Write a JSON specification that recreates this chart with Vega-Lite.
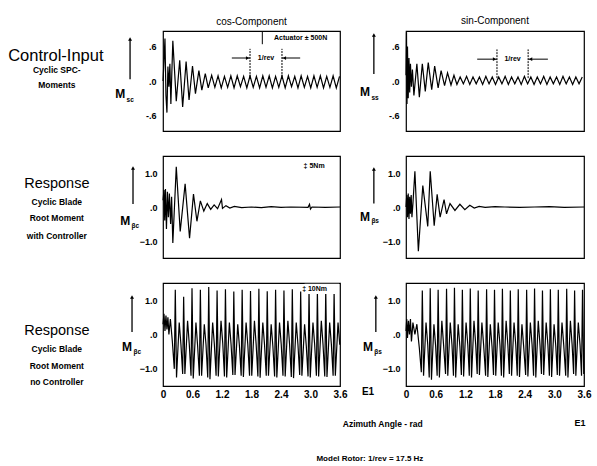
{
"$schema": "https://vega.github.io/schema/vega-lite/v6.json",
"padding": {"left": 7, "top": 15, "right": 5, "bottom": 5},
"background": "white",
"config": {"font": "Liberation Sans", "view": {"stroke": "black", "strokeWidth": 1.2}, "title": {"fontSize": 10, "fontWeight": "normal", "offset": 4, "anchor": "middle", "color": "black"}},
"datasets": {
"tl": [{"x":0.00,"y":0.0},{"x":0.02,"y":0.35},{"x":0.04,"y":0.74},{"x":0.06,"y":-0.25},{"x":0.08,"y":-0.55},{"x":0.10,"y":0.25},{"x":0.12,"y":-0.1},{"x":0.14,"y":0.3},{"x":0.16,"y":-0.4},{"x":0.20,"y":0.70},{"x":0.27,"y":-0.35},{"x":0.34,"y":0.36},{"x":0.40,"y":-0.45},{"x":0.47,"y":0.34},{"x":0.53,"y":-0.33},{"x":0.60,"y":0.26},{"x":0.66,"y":-0.22},{"x":0.73,"y":0.18},{"x":0.79,"y":-0.16},{"x":0.86,"y":0.13},{"x":0.92,"y":-0.12},{"x":0.99,"y":0.10},{"x":1.055,"y":-0.11},{"x":1.12,"y":0.09},{"x":1.185,"y":-0.12},{"x":1.25,"y":0.08},{"x":1.315,"y":-0.11},{"x":1.38,"y":0.09},{"x":1.445,"y":-0.12},{"x":1.51,"y":0.09},{"x":1.575,"y":-0.1},{"x":1.64,"y":0.08},{"x":1.705,"y":-0.12},{"x":1.77,"y":0.09},{"x":1.835,"y":-0.11},{"x":1.90,"y":0.08},{"x":1.965,"y":-0.12},{"x":2.03,"y":0.09},{"x":2.095,"y":-0.11},{"x":2.16,"y":0.09},{"x":2.225,"y":-0.12},{"x":2.29,"y":0.08},{"x":2.355,"y":-0.11},{"x":2.42,"y":0.09},{"x":2.485,"y":-0.12},{"x":2.55,"y":0.09},{"x":2.615,"y":-0.1},{"x":2.68,"y":0.08},{"x":2.745,"y":-0.12},{"x":2.81,"y":0.09},{"x":2.875,"y":-0.11},{"x":2.94,"y":0.08},{"x":3.005,"y":-0.12},{"x":3.07,"y":0.09},{"x":3.135,"y":-0.11},{"x":3.20,"y":0.09},{"x":3.265,"y":-0.12},{"x":3.33,"y":0.08},{"x":3.395,"y":-0.11},{"x":3.46,"y":0.09},{"x":3.525,"y":-0.12},{"x":3.59,"y":0.08}],
"tr": [{"x":0.00,"y":0.1},{"x":0.01,"y":0.85},{"x":0.02,"y":-0.4},{"x":0.03,"y":0.6},{"x":0.045,"y":-0.3},{"x":0.06,"y":0.4},{"x":0.075,"y":-0.2},{"x":0.09,"y":0.3},{"x":0.11,"y":-0.1},{"x":0.13,"y":0.2},{"x":0.16,"y":-0.25},{"x":0.22,"y":0.30},{"x":0.27,"y":-0.28},{"x":0.33,"y":0.30},{"x":0.39,"y":-0.18},{"x":0.45,"y":0.32},{"x":0.52,"y":-0.15},{"x":0.58,"y":0.26},{"x":0.65,"y":-0.12},{"x":0.71,"y":0.18},{"x":0.78,"y":-0.08},{"x":0.84,"y":0.14},{"x":0.91,"y":-0.07},{"x":0.97,"y":0.10},{"x":1.03,"y":-0.06},{"x":1.095,"y":0.07},{"x":1.16,"y":-0.05},{"x":1.225,"y":0.08},{"x":1.29,"y":-0.06},{"x":1.355,"y":0.07},{"x":1.42,"y":-0.05},{"x":1.485,"y":0.07},{"x":1.55,"y":-0.06},{"x":1.615,"y":0.08},{"x":1.68,"y":-0.05},{"x":1.745,"y":0.07},{"x":1.81,"y":-0.06},{"x":1.875,"y":0.07},{"x":1.94,"y":-0.05},{"x":2.005,"y":0.08},{"x":2.07,"y":-0.06},{"x":2.135,"y":0.07},{"x":2.20,"y":-0.05},{"x":2.265,"y":0.07},{"x":2.33,"y":-0.06},{"x":2.395,"y":0.08},{"x":2.46,"y":-0.05},{"x":2.525,"y":0.07},{"x":2.59,"y":-0.06},{"x":2.655,"y":0.07},{"x":2.72,"y":-0.05},{"x":2.785,"y":0.08},{"x":2.85,"y":-0.06},{"x":2.915,"y":0.07},{"x":2.98,"y":-0.05},{"x":3.045,"y":0.07},{"x":3.11,"y":-0.06},{"x":3.175,"y":0.08},{"x":3.24,"y":-0.05},{"x":3.305,"y":0.07},{"x":3.37,"y":-0.06},{"x":3.435,"y":0.07},{"x":3.50,"y":-0.05},{"x":3.565,"y":0.07}],
"ml": [{"x":0.00,"y":0.2},{"x":0.02,"y":0.5},{"x":0.035,"y":-0.4},{"x":0.05,"y":0.53},{"x":0.07,"y":-0.65},{"x":0.09,"y":0.45},{"x":0.11,"y":-0.3},{"x":0.13,"y":0.4},{"x":0.155,"y":-0.5},{"x":0.175,"y":0.3},{"x":0.20,"y":-1.06},{"x":0.27,"y":1.18},{"x":0.35,"y":-0.72},{"x":0.45,"y":0.68},{"x":0.54,"y":-0.92},{"x":0.62,"y":0.38},{"x":0.69,"y":-0.42},{"x":0.76,"y":0.18},{"x":0.83,"y":-0.12},{"x":0.90,"y":0.10},{"x":0.97,"y":-0.07},{"x":1.04,"y":0.06},{"x":1.11,"y":-0.05},{"x":1.19,"y":0.22},{"x":1.21,"y":-0.04},{"x":1.28,"y":0.04},{"x":1.36,"y":-0.03},{"x":1.45,"y":0.02},{"x":1.6,"y":-0.02},{"x":1.8,"y":0.0},{"x":2.0,"y":-0.02},{"x":2.2,"y":0.01},{"x":2.4,"y":-0.01},{"x":2.6,"y":0.0},{"x":2.95,"y":-0.01},{"x":2.98,"y":0.08},{"x":3.0,"y":-0.06},{"x":3.03,"y":0.0},{"x":3.3,"y":-0.01},{"x":3.6,"y":0.0}],
"mr": [{"x":0.00,"y":0.0},{"x":0.015,"y":0.35},{"x":0.03,"y":-0.3},{"x":0.045,"y":0.4},{"x":0.06,"y":-0.35},{"x":0.075,"y":0.3},{"x":0.09,"y":-0.2},{"x":0.105,"y":0.35},{"x":0.12,"y":-0.3},{"x":0.14,"y":0.1},{"x":0.18,"y":1.05},{"x":0.25,"y":-1.3},{"x":0.34,"y":0.63},{"x":0.44,"y":-0.57},{"x":0.49,"y":1.05},{"x":0.57,"y":-0.55},{"x":0.63,"y":0.37},{"x":0.69,"y":-0.3},{"x":0.77,"y":0.22},{"x":0.82,"y":-0.2},{"x":0.89,"y":0.1},{"x":0.99,"y":-0.1},{"x":1.09,"y":0.08},{"x":1.19,"y":-0.08},{"x":1.29,"y":0.05},{"x":1.38,"y":-0.03},{"x":1.48,"y":0.02},{"x":1.6,"y":-0.01},{"x":1.8,"y":0.01},{"x":2.0,"y":0.0},{"x":2.3,"y":-0.01},{"x":2.6,"y":0.0},{"x":2.9,"y":0.01},{"x":3.2,"y":-0.01},{"x":3.6,"y":0.0}],
"bl": [{"x":0,"y":0.3},{"x":0.02,"y":0.6},{"x":0.04,"y":0.1},{"x":0.06,"y":0.55},{"x":0.08,"y":0.15},{"x":0.10,"y":0.5},{"x":0.12,"y":0.0},{"x":0.15,"y":0.45},{"x":0.19,"y":-0.2},
{"x":0.23,"y":-1.0},{"x":0.25,"y":1.30},{"x":0.275,"y":-1.25},{"x":0.33,"y":0.35},{"x":0.365,"y":-0.3},
{"x":0.40,"y":-1.15},{"x":0.42,"y":1.10},{"x":0.445,"y":-1.15},{"x":0.50,"y":0.4},{"x":0.535,"y":-0.3},
{"x":0.57,"y":-1.2},{"x":0.59,"y":1.35},{"x":0.615,"y":-1.28},{"x":0.67,"y":0.35},{"x":0.705,"y":-0.35},
{"x":0.74,"y":-1.2},{"x":0.76,"y":1.30},{"x":0.785,"y":-1.2},{"x":0.84,"y":0.3},{"x":0.875,"y":-0.3},
{"x":0.91,"y":-1.25},{"x":0.93,"y":1.38},{"x":0.955,"y":-1.3},{"x":1.01,"y":0.35},{"x":1.045,"y":-0.3},
{"x":1.08,"y":-1.2},{"x":1.10,"y":1.28},{"x":1.125,"y":-1.22},{"x":1.18,"y":0.4},{"x":1.215,"y":-0.25},
{"x":1.25,"y":-1.22},{"x":1.27,"y":1.32},{"x":1.295,"y":-1.25},{"x":1.35,"y":0.35},{"x":1.385,"y":-0.3},
{"x":1.42,"y":-1.18},{"x":1.44,"y":1.25},{"x":1.465,"y":-1.18},{"x":1.52,"y":0.3},{"x":1.555,"y":-0.35},
{"x":1.59,"y":-1.2},{"x":1.61,"y":1.30},{"x":1.635,"y":-1.24},{"x":1.69,"y":0.35},{"x":1.725,"y":-0.3},
{"x":1.76,"y":-1.2},{"x":1.78,"y":1.27},{"x":1.805,"y":-1.2},{"x":1.86,"y":0.4},{"x":1.895,"y":-0.3},
{"x":1.93,"y":-1.22},{"x":1.95,"y":1.33},{"x":1.975,"y":-1.26},{"x":2.03,"y":0.35},{"x":2.065,"y":-0.3},
{"x":2.10,"y":-1.2},{"x":2.12,"y":1.26},{"x":2.145,"y":-1.2},{"x":2.20,"y":0.3},{"x":2.235,"y":-0.35},
{"x":2.27,"y":-1.22},{"x":2.29,"y":1.30},{"x":2.315,"y":-1.25},{"x":2.37,"y":0.35},{"x":2.405,"y":-0.3},
{"x":2.44,"y":-1.2},{"x":2.46,"y":1.28},{"x":2.485,"y":-1.22},{"x":2.54,"y":0.4},{"x":2.575,"y":-0.3},
{"x":2.61,"y":-1.24},{"x":2.63,"y":1.32},{"x":2.655,"y":-1.27},{"x":2.71,"y":0.35},{"x":2.745,"y":-0.3},
{"x":2.78,"y":-1.18},{"x":2.80,"y":1.25},{"x":2.825,"y":-1.2},{"x":2.88,"y":0.3},{"x":2.915,"y":-0.35},
{"x":2.95,"y":-1.22},{"x":2.97,"y":1.30},{"x":2.995,"y":-1.25},{"x":3.05,"y":0.35},{"x":3.085,"y":-0.3},
{"x":3.12,"y":-1.2},{"x":3.14,"y":1.27},{"x":3.165,"y":-1.22},{"x":3.22,"y":0.4},{"x":3.255,"y":-0.3},
{"x":3.29,"y":-1.22},{"x":3.31,"y":1.31},{"x":3.335,"y":-1.24},{"x":3.39,"y":0.35},{"x":3.425,"y":-0.3},
{"x":3.46,"y":-1.2},{"x":3.48,"y":1.26},{"x":3.505,"y":-1.2},{"x":3.56,"y":0.35},{"x":3.595,"y":-0.3}],
"br": [{"x":0,"y":0.1},{"x":0.015,"y":0.45},{"x":0.03,"y":-0.1},{"x":0.05,"y":0.4},{"x":0.07,"y":0.0},{"x":0.09,"y":0.45},{"x":0.11,"y":-0.2},{"x":0.14,"y":0.35},{"x":0.18,"y":0.0},{"x":0.22,"y":0.3},{"x":0.27,"y":-0.4},
{"x":0.31,"y":-1.1},{"x":0.33,"y":1.28},{"x":0.355,"y":-1.2},{"x":0.405,"y":0.35},{"x":0.44,"y":-0.3},
{"x":0.47,"y":-1.25},{"x":0.49,"y":1.35},{"x":0.515,"y":-1.32},{"x":0.565,"y":0.3},{"x":0.60,"y":-0.35},
{"x":0.63,"y":-1.2},{"x":0.65,"y":1.3},{"x":0.675,"y":-1.25},{"x":0.725,"y":0.4},{"x":0.76,"y":-0.3},
{"x":0.80,"y":-1.15},{"x":0.82,"y":1.33},{"x":0.845,"y":-1.2},{"x":0.895,"y":0.35},{"x":0.93,"y":-0.3},
{"x":0.96,"y":-1.2},{"x":0.98,"y":1.36},{"x":1.005,"y":-1.25},{"x":1.055,"y":0.3},{"x":1.09,"y":-0.35},
{"x":1.12,"y":-1.18},{"x":1.14,"y":1.3},{"x":1.165,"y":-1.22},{"x":1.215,"y":0.35},{"x":1.25,"y":-0.3},
{"x":1.28,"y":-1.2},{"x":1.30,"y":1.34},{"x":1.325,"y":-1.25},{"x":1.375,"y":0.4},{"x":1.41,"y":-0.3},
{"x":1.44,"y":-1.15},{"x":1.46,"y":1.28},{"x":1.485,"y":-1.18},{"x":1.535,"y":0.35},{"x":1.57,"y":-0.3},
{"x":1.61,"y":-1.2},{"x":1.63,"y":1.32},{"x":1.655,"y":-1.24},{"x":1.705,"y":0.3},{"x":1.74,"y":-0.35},
{"x":1.77,"y":-1.18},{"x":1.79,"y":1.3},{"x":1.815,"y":-1.2},{"x":1.865,"y":0.35},{"x":1.90,"y":-0.3},
{"x":1.93,"y":-1.2},{"x":1.95,"y":1.33},{"x":1.975,"y":-1.25},{"x":2.025,"y":0.4},{"x":2.06,"y":-0.3},
{"x":2.09,"y":-1.15},{"x":2.11,"y":1.28},{"x":2.135,"y":-1.2},{"x":2.185,"y":0.35},{"x":2.22,"y":-0.3},
{"x":2.25,"y":-1.2},{"x":2.27,"y":1.32},{"x":2.295,"y":-1.24},{"x":2.345,"y":0.3},{"x":2.38,"y":-0.35},
{"x":2.42,"y":-1.18},{"x":2.44,"y":1.3},{"x":2.465,"y":-1.22},{"x":2.515,"y":0.35},{"x":2.55,"y":-0.3},
{"x":2.58,"y":-1.2},{"x":2.60,"y":1.34},{"x":2.625,"y":-1.25},{"x":2.675,"y":0.4},{"x":2.71,"y":-0.3},
{"x":2.74,"y":-1.15},{"x":2.76,"y":1.28},{"x":2.785,"y":-1.18},{"x":2.835,"y":0.35},{"x":2.87,"y":-0.3},
{"x":2.90,"y":-1.2},{"x":2.92,"y":1.32},{"x":2.945,"y":-1.24},{"x":2.995,"y":0.3},{"x":3.03,"y":-0.35},
{"x":3.06,"y":-1.18},{"x":3.08,"y":1.3},{"x":3.105,"y":-1.2},{"x":3.155,"y":0.35},{"x":3.19,"y":-0.3},
{"x":3.23,"y":-1.2},{"x":3.25,"y":1.33},{"x":3.275,"y":-1.25},{"x":3.325,"y":0.4},{"x":3.36,"y":-0.3},
{"x":3.39,"y":-1.15},{"x":3.41,"y":1.28},{"x":3.435,"y":-1.2},{"x":3.485,"y":0.35},{"x":3.52,"y":-0.3},
{"x":3.55,"y":-1.2},{"x":3.57,"y":1.3},{"x":3.595,"y":-1.15}]
},
"bounds": "flush",
"columns": 2,
"spacing": {"row": 25, "column": 66},
"concat": [
 {"width": 177, "height": 100, "title": "cos-Component",
  "encoding": {"x": {"field": "x", "type": "quantitative", "scale": {"domain": [0, 3.6], "nice": false, "zero": false}, "axis": null},
               "y": {"field": "y", "type": "quantitative", "scale": {"domain": [-0.87, 0.87], "nice": false, "zero": false}, "axis": {"title": null, "values": [-0.6, 0, 0.6], "labelExpr": "datum.value == 0 ? '.0' : (datum.value > 0 ? '.6' : '-.6')", "ticks": false, "domain": false, "grid": false, "labelPadding": 7, "labelFontSize": 9, "labelFontWeight": "bold", "labelColor": "black"}}},
  "layer": [
   {"data": {"name": "tl"}, "mark": {"type": "line", "color": "black", "strokeWidth": 1.2}},
   {"data": {"values": [{"x": -0.67, "y": 0.03, "y2": 0.73}]}, "mark": {"type": "rule", "color": "black", "strokeWidth": 1.3}, "encoding": {"y2": {"field": "y2"}}},
   {"data": {"values": [{"x": -0.67, "y": 0.73}]}, "mark": {"type": "point", "shape": "triangle-up", "filled": true, "color": "black", "size": 16, "opacity": 1}},
   {"data": {"values": [{"x": -0.87, "y": -0.23, "t": "M"}]}, "mark": {"type": "text", "fontSize": 12, "fontWeight": "bold", "align": "center", "baseline": "middle"}, "encoding": {"text": {"field": "t"}}},
   {"data": {"values": [{"x": -0.74, "y": -0.33, "t": "sc"}]}, "mark": {"type": "text", "fontSize": 6.5, "fontWeight": "bold", "align": "left", "baseline": "middle"}, "encoding": {"text": {"field": "t"}}},
   {"data": {"values": [{"x": -2.18, "y": 0.44, "t": "Control-Input"}]}, "mark": {"type": "text", "fontSize": 16.5, "align": "center", "baseline": "middle"}, "encoding": {"text": {"field": "t"}}},
   {"data": {"values": [{"x": -2.16, "y": 0.19, "t": "Cyclic SPC-"}, {"x": -2.16, "y": -0.07, "t": "Moments"}]}, "mark": {"type": "text", "fontSize": 8.5, "fontWeight": "bold", "align": "center", "baseline": "middle"}, "encoding": {"text": {"field": "t"}}},
   {"data": {"values": [{"x": 2.8, "y": 0.75, "t": "Actuator ± 500N"}]}, "mark": {"type": "text", "fontSize": 7, "fontWeight": "bold", "align": "center", "baseline": "middle"}, "encoding": {"text": {"field": "t"}}},
   {"data": {"values": [{"x": 2.02, "y": 0.64, "y2": 0.87}]}, "mark": {"type": "rule", "color": "black", "strokeWidth": 1}, "encoding": {"y2": {"field": "y2"}}},
   {"data": {"values": [{"x": 1.40, "x2": 1.77, "y": 0.40}, {"x": 2.42, "x2": 2.79, "y": 0.40}]}, "mark": {"type": "rule", "color": "black", "strokeWidth": 1}, "encoding": {"x2": {"field": "x2"}}},
   {"data": {"values": [{"x": 1.72, "y": 0.40}]}, "mark": {"type": "point", "shape": "triangle-right", "filled": true, "color": "black", "size": 14, "opacity": 1}},
   {"data": {"values": [{"x": 2.47, "y": 0.40}]}, "mark": {"type": "point", "shape": "triangle-left", "filled": true, "color": "black", "size": 14, "opacity": 1}},
   {"data": {"values": [{"x": 1.77, "y": 0.07, "y2": 0.56}, {"x": 2.42, "y": 0.07, "y2": 0.56}]}, "mark": {"type": "rule", "color": "black", "strokeWidth": 1, "strokeDash": [2, 1]}, "encoding": {"y2": {"field": "y2"}}},
   {"data": {"values": [{"x": 2.095, "y": 0.40, "t": "1/rev"}]}, "mark": {"type": "text", "fontSize": 7, "fontWeight": "bold", "align": "center", "baseline": "middle"}, "encoding": {"text": {"field": "t"}}}
  ]},
 {"width": 178, "height": 100, "title": "sin-Component",
  "encoding": {"x": {"field": "x", "type": "quantitative", "scale": {"domain": [0, 3.6], "nice": false, "zero": false}, "axis": null},
               "y": {"field": "y", "type": "quantitative", "scale": {"domain": [-0.87, 0.87], "nice": false, "zero": false}, "axis": {"title": null, "values": [-0.6, 0, 0.6], "labelExpr": "datum.value == 0 ? '.0' : (datum.value > 0 ? '.6' : '-.6')", "ticks": false, "domain": false, "grid": false, "labelPadding": 7, "labelFontSize": 9, "labelFontWeight": "bold", "labelColor": "black"}}},
  "layer": [
   {"data": {"name": "tr"}, "mark": {"type": "line", "color": "black", "strokeWidth": 1.2}},
   {"data": {"values": [{"x": -0.65, "y": 0.12, "y2": 0.80}]}, "mark": {"type": "rule", "color": "black", "strokeWidth": 1.3}, "encoding": {"y2": {"field": "y2"}}},
   {"data": {"values": [{"x": -0.65, "y": 0.80}]}, "mark": {"type": "point", "shape": "triangle-up", "filled": true, "color": "black", "size": 16, "opacity": 1}},
   {"data": {"values": [{"x": -0.83, "y": -0.19, "t": "M"}]}, "mark": {"type": "text", "fontSize": 12, "fontWeight": "bold", "align": "center", "baseline": "middle"}, "encoding": {"text": {"field": "t"}}},
   {"data": {"values": [{"x": -0.70, "y": -0.29, "t": "ss"}]}, "mark": {"type": "text", "fontSize": 6.5, "fontWeight": "bold", "align": "left", "baseline": "middle"}, "encoding": {"text": {"field": "t"}}},
   {"data": {"values": [{"x": 1.44, "x2": 1.84, "y": 0.38}, {"x": 2.47, "x2": 2.87, "y": 0.38}]}, "mark": {"type": "rule", "color": "black", "strokeWidth": 1}, "encoding": {"x2": {"field": "x2"}}},
   {"data": {"values": [{"x": 1.79, "y": 0.38}]}, "mark": {"type": "point", "shape": "triangle-right", "filled": true, "color": "black", "size": 14, "opacity": 1}},
   {"data": {"values": [{"x": 2.52, "y": 0.38}]}, "mark": {"type": "point", "shape": "triangle-left", "filled": true, "color": "black", "size": 14, "opacity": 1}},
   {"data": {"values": [{"x": 1.84, "y": 0.05, "y2": 0.55}, {"x": 2.47, "y": 0.05, "y2": 0.55}]}, "mark": {"type": "rule", "color": "black", "strokeWidth": 1, "strokeDash": [2, 1]}, "encoding": {"y2": {"field": "y2"}}},
   {"data": {"values": [{"x": 2.155, "y": 0.38, "t": "1/rev"}]}, "mark": {"type": "text", "fontSize": 7, "fontWeight": "bold", "align": "center", "baseline": "middle"}, "encoding": {"text": {"field": "t"}}}
  ]},
 {"width": 177, "height": 102,
  "encoding": {"x": {"field": "x", "type": "quantitative", "scale": {"domain": [0, 3.6], "nice": false, "zero": false}, "axis": null},
               "y": {"field": "y", "type": "quantitative", "scale": {"domain": [-1.5, 1.5], "nice": false, "zero": false}, "axis": {"title": null, "values": [-1, 0, 1], "labelExpr": "datum.value == 0 ? '.0' : format(datum.value, '.1f')", "ticks": false, "domain": false, "grid": false, "labelPadding": 6, "labelFontSize": 9, "labelFontWeight": "bold", "labelColor": "black"}}},
  "layer": [
   {"data": {"name": "ml"}, "mark": {"type": "line", "color": "black", "strokeWidth": 1.2}},
   {"data": {"values": [{"x": -0.61, "y": 0.09, "y2": 1.15}]}, "mark": {"type": "rule", "color": "black", "strokeWidth": 1.3}, "encoding": {"y2": {"field": "y2"}}},
   {"data": {"values": [{"x": -0.61, "y": 1.15}]}, "mark": {"type": "point", "shape": "triangle-up", "filled": true, "color": "black", "size": 16, "opacity": 1}},
   {"data": {"values": [{"x": -0.77, "y": -0.41, "t": "M"}]}, "mark": {"type": "text", "fontSize": 12, "fontWeight": "bold", "align": "center", "baseline": "middle"}, "encoding": {"text": {"field": "t"}}},
   {"data": {"values": [{"x": -0.64, "y": -0.55, "t": "βc"}]}, "mark": {"type": "text", "fontSize": 6.5, "fontWeight": "bold", "align": "left", "baseline": "middle"}, "encoding": {"text": {"field": "t"}}},
   {"data": {"values": [{"x": -2.16, "y": 0.68, "t": "Response"}]}, "mark": {"type": "text", "fontSize": 14.5, "align": "center", "baseline": "middle"}, "encoding": {"text": {"field": "t"}}},
   {"data": {"values": [{"x": -2.16, "y": 0.15, "t": "Cyclic Blade"}, {"x": -2.16, "y": -0.32, "t": "Root Moment"}, {"x": -2.16, "y": -0.85, "t": "with Controller"}]}, "mark": {"type": "text", "fontSize": 8.5, "fontWeight": "bold", "align": "center", "baseline": "middle"}, "encoding": {"text": {"field": "t"}}},
   {"data": {"values": [{"x": 2.86, "y": 1.2, "t": "‡ 5Nm"}]}, "mark": {"type": "text", "fontSize": 7, "fontWeight": "bold", "align": "left", "baseline": "middle"}, "encoding": {"text": {"field": "t"}}}
  ]},
 {"width": 178, "height": 102,
  "encoding": {"x": {"field": "x", "type": "quantitative", "scale": {"domain": [0, 3.6], "nice": false, "zero": false}, "axis": null},
               "y": {"field": "y", "type": "quantitative", "scale": {"domain": [-1.5, 1.5], "nice": false, "zero": false}, "axis": {"title": null, "values": [-1, 0, 1], "labelExpr": "datum.value == 0 ? '.0' : format(datum.value, '.1f')", "ticks": false, "domain": false, "grid": false, "labelPadding": 6, "labelFontSize": 9, "labelFontWeight": "bold", "labelColor": "black"}}},
  "layer": [
   {"data": {"name": "mr"}, "mark": {"type": "line", "color": "black", "strokeWidth": 1.2}},
   {"data": {"values": [{"x": -0.65, "y": 0.1, "y2": 1.12}]}, "mark": {"type": "rule", "color": "black", "strokeWidth": 1.3}, "encoding": {"y2": {"field": "y2"}}},
   {"data": {"values": [{"x": -0.65, "y": 1.12}]}, "mark": {"type": "point", "shape": "triangle-up", "filled": true, "color": "black", "size": 16, "opacity": 1}},
   {"data": {"values": [{"x": -0.83, "y": -0.28, "t": "M"}]}, "mark": {"type": "text", "fontSize": 12, "fontWeight": "bold", "align": "center", "baseline": "middle"}, "encoding": {"text": {"field": "t"}}},
   {"data": {"values": [{"x": -0.70, "y": -0.42, "t": "βs"}]}, "mark": {"type": "text", "fontSize": 6.5, "fontWeight": "bold", "align": "left", "baseline": "middle"}, "encoding": {"text": {"field": "t"}}}
  ]},
 {"width": 177, "height": 103,
  "encoding": {"x": {"field": "x", "type": "quantitative", "scale": {"domain": [0, 3.6], "nice": false, "zero": false}, "axis": {"title": null, "values": [0, 0.6, 1.2, 1.8, 2.4, 3.0, 3.6], "labelExpr": "datum.value == 0 ? '0' : format(datum.value, '.1f')", "ticks": false, "domain": false, "grid": false, "labelPadding": 3, "labelFontSize": 10, "labelFontWeight": "bold", "labelFlush": false, "labelOverlap": false, "labelColor": "black"}},
               "y": {"field": "y", "type": "quantitative", "scale": {"domain": [-1.5, 1.5], "nice": false, "zero": false}, "axis": {"title": null, "values": [-1, 0, 1], "labelExpr": "datum.value == 0 ? '.0' : format(datum.value, '.1f')", "ticks": false, "domain": false, "grid": false, "labelPadding": 6, "labelFontSize": 9, "labelFontWeight": "bold", "labelColor": "black"}}},
  "layer": [
   {"data": {"name": "bl"}, "mark": {"type": "line", "color": "black", "strokeWidth": 1.2}},
   {"data": {"values": [{"x": 2.88, "x2": 3.58, "y": 1.18, "y2": 1.48}]}, "mark": {"type": "rect", "color": "white"}, "encoding": {"x2": {"field": "x2"}, "y2": {"field": "y2"}}},
   {"data": {"values": [{"x": 2.83, "y": 1.33, "t": "‡ 10Nm"}]}, "mark": {"type": "text", "fontSize": 7, "fontWeight": "bold", "align": "left", "baseline": "middle"}, "encoding": {"text": {"field": "t"}}},
   {"data": {"values": [{"x": -0.63, "y": 0.07, "y2": 1.09}]}, "mark": {"type": "rule", "color": "black", "strokeWidth": 1.3}, "encoding": {"y2": {"field": "y2"}}},
   {"data": {"values": [{"x": -0.63, "y": 1.09}]}, "mark": {"type": "point", "shape": "triangle-up", "filled": true, "color": "black", "size": 16, "opacity": 1}},
   {"data": {"values": [{"x": -0.73, "y": -0.36, "t": "M"}]}, "mark": {"type": "text", "fontSize": 12, "fontWeight": "bold", "align": "center", "baseline": "middle"}, "encoding": {"text": {"field": "t"}}},
   {"data": {"values": [{"x": -0.60, "y": -0.5, "t": "βc"}]}, "mark": {"type": "text", "fontSize": 6.5, "fontWeight": "bold", "align": "left", "baseline": "middle"}, "encoding": {"text": {"field": "t"}}},
   {"data": {"values": [{"x": -2.16, "y": 0.10, "t": "Response"}]}, "mark": {"type": "text", "fontSize": 14.5, "align": "center", "baseline": "middle"}, "encoding": {"text": {"field": "t"}}},
   {"data": {"values": [{"x": -2.16, "y": -0.42, "t": "Cyclic Blade"}, {"x": -2.16, "y": -0.92, "t": "Root Moment"}, {"x": -2.16, "y": -1.39, "t": "no Controller"}]}, "mark": {"type": "text", "fontSize": 8.5, "fontWeight": "bold", "align": "center", "baseline": "middle"}, "encoding": {"text": {"field": "t"}}},
   {"data": {"values": [{"x": 4.17, "y": -1.68, "t": "E1"}]}, "mark": {"type": "text", "fontSize": 10, "fontWeight": "bold", "align": "center", "baseline": "middle"}, "encoding": {"text": {"field": "t"}}}
  ]},
 {"width": 178, "height": 103,
  "encoding": {"x": {"field": "x", "type": "quantitative", "scale": {"domain": [0, 3.6], "nice": false, "zero": false}, "axis": {"title": null, "values": [0, 0.6, 1.2, 1.8, 2.4, 3.0, 3.6], "labelExpr": "datum.value == 0 ? '0' : format(datum.value, '.1f')", "ticks": false, "domain": false, "grid": false, "labelPadding": 3, "labelFontSize": 10, "labelFontWeight": "bold", "labelFlush": false, "labelOverlap": false, "labelColor": "black"}},
               "y": {"field": "y", "type": "quantitative", "scale": {"domain": [-1.5, 1.5], "nice": false, "zero": false}, "axis": {"title": null, "values": [-1, 0, 1], "labelExpr": "datum.value == 0 ? '.0' : format(datum.value, '.1f')", "ticks": false, "domain": false, "grid": false, "labelPadding": 6, "labelFontSize": 9, "labelFontWeight": "bold", "labelColor": "black"}}},
  "layer": [
   {"data": {"name": "br"}, "mark": {"type": "line", "color": "black", "strokeWidth": 1.2}},
   {"data": {"values": [{"x": -0.61, "y": 0.07, "y2": 1.09}]}, "mark": {"type": "rule", "color": "black", "strokeWidth": 1.3}, "encoding": {"y2": {"field": "y2"}}},
   {"data": {"values": [{"x": -0.61, "y": 1.09}]}, "mark": {"type": "point", "shape": "triangle-up", "filled": true, "color": "black", "size": 16, "opacity": 1}},
   {"data": {"values": [{"x": -0.77, "y": -0.36, "t": "M"}]}, "mark": {"type": "text", "fontSize": 12, "fontWeight": "bold", "align": "center", "baseline": "middle"}, "encoding": {"text": {"field": "t"}}},
   {"data": {"values": [{"x": -0.64, "y": -0.5, "t": "βs"}]}, "mark": {"type": "text", "fontSize": 6.5, "fontWeight": "bold", "align": "left", "baseline": "middle"}, "encoding": {"text": {"field": "t"}}},
   {"data": {"values": [{"x": -0.47, "y": -2.61, "t": "Azimuth Angle - rad"}]}, "mark": {"type": "text", "fontSize": 8.5, "fontWeight": "bold", "align": "center", "baseline": "middle"}, "encoding": {"text": {"field": "t"}}},
   {"data": {"values": [{"x": 3.52, "y": -2.58, "t": "E1"}]}, "mark": {"type": "text", "fontSize": 9, "fontWeight": "bold", "align": "center", "baseline": "middle"}, "encoding": {"text": {"field": "t"}}},
   {"data": {"values": [{"x": -0.73, "y": -3.63, "t": "Model Rotor:  1/rev = 17.5 Hz"}]}, "mark": {"type": "text", "fontSize": 8, "fontWeight": "bold", "align": "center", "baseline": "middle"}, "encoding": {"text": {"field": "t"}}}
  ]}
]
}
